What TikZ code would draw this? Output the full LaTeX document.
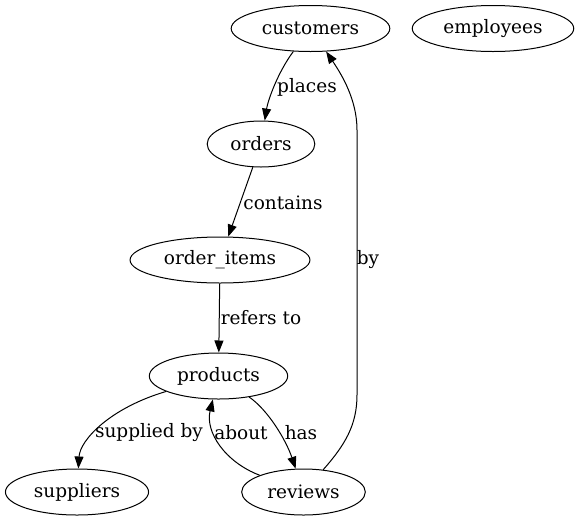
\documentclass[tikz,border=0pt]{standalone}
\usepackage{fontspec}
\setmainfont{DejaVu Serif}
\usetikzlibrary{shapes.geometric}
\usetikzlibrary{arrows.meta}

\begin{document}
\begin{tikzpicture}[x=1pt, y=1pt]
        % ================= 样式定义 =================
        \tikzset{
            % 表节点 (白底黑边椭圆)
            tnode/.style={ellipse, draw=black, line width=1pt, minimum height=46pt, inner xsep=7.5pt, inner ysep=0pt, font=\fontsize{18.5}{22}\selectfont},
            % 连边上的文字
            elabel/.style={inner sep=0pt, font=\fontsize{18.5}{22}\selectfont},
            % 关系连边 (实心三角箭头)
            rel_edge/.style={line width=1pt, -{Triangle[length=12pt, width=9pt]}}
        }
        \useasboundingbox (0,0) rectangle (578,-523);

        % ================= 坐标定义 =================
        \coordinate (customers_p) at (310.5,-28.5);
        \coordinate (employees_p) at (493,-28.5);
        \coordinate (orders_p) at (261,-144);
        \coordinate (orderitems_p) at (220,-260);
        \coordinate (products_p) at (218.5,-376);
        \coordinate (suppliers_p) at (77,-492);
        \coordinate (reviews_p) at (303.5,-492);

        % ================= 放置节点 =================
        \node[tnode] (customers) at (customers_p) {customers};
        \node[tnode] (employees) at (employees_p) {employees};
        \node[tnode] (orders) at (orders_p) {orders};
        \node[tnode] (orderitems) at (orderitems_p) {order\_items};
        \node[tnode] (products) at (products_p) {products};
        \node[tnode] (suppliers) at (suppliers_p) {suppliers};
        \node[tnode] (reviews) at (reviews_p) {reviews};

        % ================= 绘制连边 =================
        % 1. 主链 customers -> orders -> order_items -> products
        \draw[rel_edge] (customers) .. controls (278,-72) and (268,-100) .. (orders);
        \draw[rel_edge] (orders) -- (orderitems);
        \draw[rel_edge] (orderitems) -- (products);

        % 2. products 的出边
        \draw[rel_edge] (products) .. controls (110,-408) and (80,-440) .. (suppliers);
        \draw[rel_edge] (products) .. controls (268,-410) and (286,-440) .. (reviews);

        % 3. reviews 的出边 (回到 products 和 customers)
        \draw[rel_edge] (reviews) .. controls (225,-462) and (205,-432) .. (products);
        \draw[rel_edge] (reviews) .. controls (345,-445) and (357,-425) .. (357,-395)
            -- (357,-130) .. controls (357,-100) and (342,-75) .. (customers);

        % ================= 连边标签 =================
        \node[elabel] (places_l) at (307,-87) {places};
        \node[elabel] (contains_l) at (283,-203) {contains};
        \node[elabel] (refers_l) at (261,-318) {refers to};
        \node[elabel] (supplied_l) at (149,-433) {supplied by};
        \node[elabel] (about_l) at (241,-433) {about};
        \node[elabel] (has_l) at (301,-433) {has};
        \node[elabel] (by_l) at (368,-260) {by};

    \end{tikzpicture}
\end{document}
